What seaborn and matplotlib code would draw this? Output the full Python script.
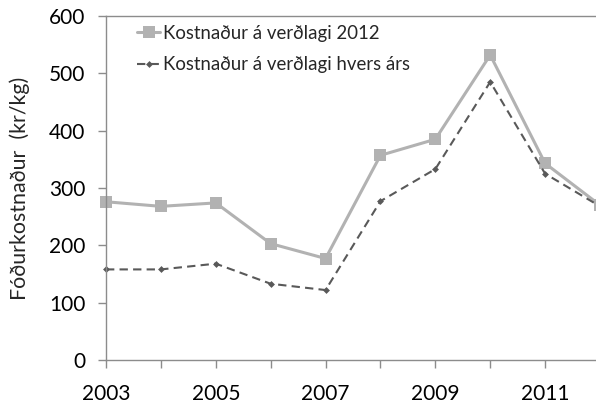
import pandas as pd
import matplotlib.pyplot as plt
import seaborn as sns

# Data
years = [2003, 2004, 2005, 2006, 2007, 2008, 2009, 2010, 2011, 2012]
cost_2012 = [276, 268, 274, 203, 177, 357, 385, 532, 343, 270]
cost_nominal = [158, 158, 168, 133, 122, 277, 333, 485, 325, 268]
label_2012 = "Kostnaður á verðlagi 2012"
label_nominal = "Kostnaður á verðlagi hvers árs"

df = pd.DataFrame({"Ár": years, label_2012: cost_2012, label_nominal: cost_nominal})

sns.set_style("white")
plt.rcParams["font.family"] = ["Lato", "DejaVu Sans"]

fig = plt.figure(figsize=(5.96, 4.03), dpi=100)
# axes extend a bit past the right edge, like the cropped original
ax = fig.add_axes([106 / 596, 1 - 360 / 403, 494 / 596, 344 / 403])

sns.lineplot(data=df, x="Ár", y=label_2012, ax=ax, color="#b2b2b2", lw=2.2,
             marker="s", markersize=8, markeredgewidth=0, label=label_2012, clip_on=False)
sns.lineplot(data=df, x="Ár", y=label_nominal, ax=ax, color="#595959", lw=1.5,
             linestyle=(0, (4, 2.5)), marker="D", markersize=3.5, markeredgewidth=0,
             label=label_nominal, clip_on=False)

ax.set_xlim(2003, 2012)
ax.set_ylim(0, 600)
ax.set_xticks(years)
ax.set_xticklabels([str(y) if y % 2 == 1 else "" for y in years])
ax.set_yticks(range(0, 601, 100))
ax.set_xlabel("")
ax.set_ylabel("Fóðurkostnaður  (kr/kg)", fontsize=15.4)
ax.yaxis.set_label_coords(-76 / 494, 0.5)

for side in ["left", "bottom", "top"]:
    ax.spines[side].set_color("#8c8c8c")
    ax.spines[side].set_linewidth(1.0)
ax.spines["right"].set_visible(False)
ax.tick_params(axis="both", labelsize=15, colors="#8c8c8c", labelcolor="black",
               direction="out", length=6, width=1.0, bottom=True, left=True)
ax.tick_params(axis="y", pad=9)
ax.tick_params(axis="x", pad=11)

leg = ax.legend(loc="upper left", bbox_to_anchor=(31 / 494, 0.975), frameon=False,
                borderpad=0, borderaxespad=0,
                fontsize=13.4, handlelength=1.25, handletextpad=0.15, labelspacing=0.8)

fig.savefig("out.png", dpi=100)
